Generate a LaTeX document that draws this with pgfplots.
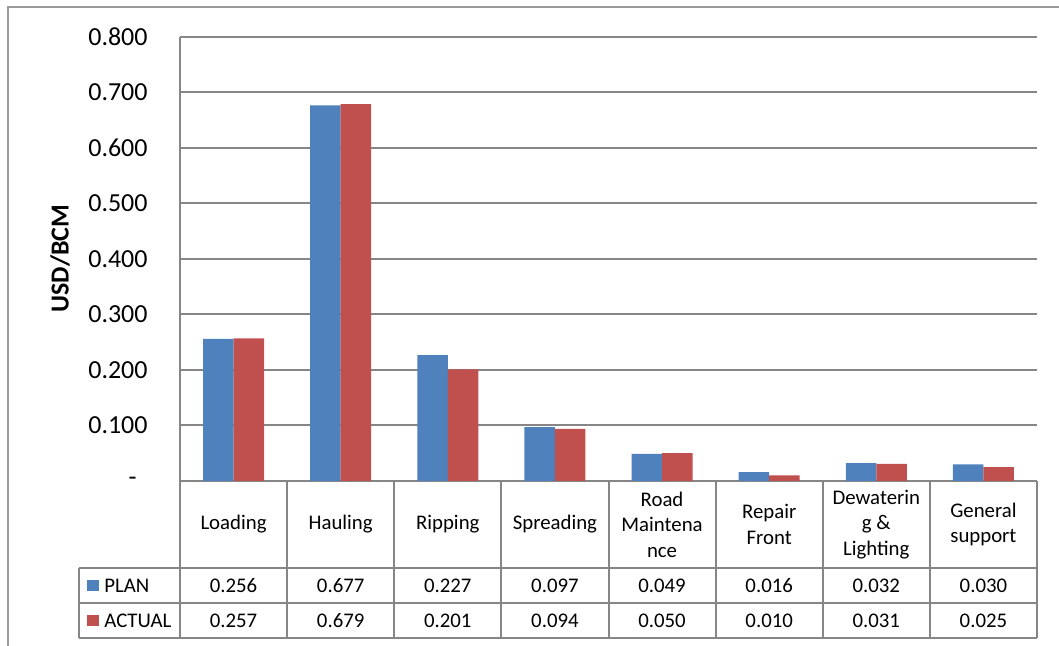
\documentclass[border=0pt]{standalone}
\usepackage{fontspec}
\setmainfont{Carlito}
\usepackage{pgfplots}
\usepackage{pgfplotstable}
\pgfplotsset{compat=1.18}

\definecolor{planblue}{HTML}{4F81BD}
\definecolor{actualred}{HTML}{C0504D}
\definecolor{gridgray}{HTML}{868686}
\definecolor{framegray}{HTML}{9A9A9A}

% Unit cost per activity (USD/BCM)
\pgfplotstableread{
x plan actual
0 0.256 0.257
1 0.677 0.679
2 0.227 0.201
3 0.097 0.094
4 0.049 0.050
5 0.016 0.010
6 0.032 0.031
7 0.030 0.025
}\costdata

\newcommand\tablefont{\fontsize{10.4}{12.8}\selectfont}
\newcommand\axisfont{\fontsize{13}{15.6}\selectfont}

\begin{document}
\begin{tikzpicture}
\useasboundingbox (-90pt,-82.5pt) rectangle (439.5pt,240.5pt);
% chart frame
\draw[framegray, line width=0.75pt] (-86pt,-82.5pt) -- (-86pt,237pt) -- (439.5pt,237pt);

\begin{axis}[
  at={(0pt,0pt)}, anchor=south west,
  scale only axis, width=428.5pt, height=222pt,
  xmin=-0.5, xmax=7.5, ymin=0, ymax=0.8,
  clip=false,
  xtick={0,1,2,3,4,5,6,7},
  xticklabels={Loading, Hauling, Ripping, Spreading, Road\\Maintena\\nce,
               Repair\\Front, Dewaterin\\g \&\\Lighting, General\\support},
  ytick={0,0.1,0.2,0.3,0.4,0.5,0.6,0.7,0.8},
  yticklabels={-\kern5.5pt, 0.100, 0.200, 0.300, 0.400, 0.500, 0.600, 0.700, 0.800},
  ymajorgrids,
  major grid style={gridgray, line width=1pt},
  axis x line*=bottom, axis y line*=left,
  axis line style={-, gridgray, line width=1pt},
  major tick length=0pt,
  yticklabel style={font=\axisfont, anchor=east, inner sep=0pt, xshift=-16pt},
  xticklabel style={font=\tablefont, align=center, anchor=center, inner sep=0pt, yshift=-21.75pt},
]
\addplot[ybar, bar width=15.25pt, bar shift=-7.625pt, fill=planblue, draw=none]
  table[x=x, y=plan] {\costdata};
\addplot[ybar, bar width=15.25pt, bar shift=7.625pt, fill=actualred, draw=none]
  table[x=x, y=actual] {\costdata};

% data table rows
\addplot[draw=none, mark=none, point meta=explicit,
  nodes near coords={\pgfmathprintnumber[fixed, fixed zerofill, precision=3, assume math mode=true]{\pgfplotspointmeta}},
  every node near coord/.style={anchor=center, inner sep=0pt, yshift=-52.25pt, font=\tablefont, text=black}]
  table[x=x, y expr=0, meta=plan] {\costdata};
\addplot[draw=none, mark=none, point meta=explicit,
  nodes near coords={\pgfmathprintnumber[fixed, fixed zerofill, precision=3, assume math mode=true]{\pgfplotspointmeta}},
  every node near coord/.style={anchor=center, inner sep=0pt, yshift=-69.75pt, font=\tablefont, text=black}]
  table[x=x, y expr=0, meta=actual] {\costdata};
\end{axis}

% data table grid
\begin{scope}[gridgray, line width=1pt]
  \foreach \i in {0,...,8} \draw (\i*53.5625pt,0pt) -- (\i*53.5625pt,-78.5pt);
  \draw (-50.5pt,-43.5pt) -- (428.5pt,-43.5pt);
  \draw (-50.5pt,-61pt) -- (428.5pt,-61pt);
  \draw (-50.5pt,-78.5pt) -- (428.5pt,-78.5pt);
  \draw (-50.5pt,-43.5pt) -- (-50.5pt,-78.5pt);
\end{scope}

% series keys in the table
\node[anchor=west, inner sep=0pt, font=\tablefont] at (-46.5pt,-52.25pt)
  {\textcolor{planblue}{\raisebox{0.6pt}{\rule{6pt}{5.5pt}}}\hspace{2.5pt}PLAN};
\node[anchor=west, inner sep=0pt, font=\tablefont] at (-46.5pt,-69.75pt)
  {\textcolor{actualred}{\raisebox{0.6pt}{\rule{6pt}{5.5pt}}}\hspace{2.5pt}ACTUAL};

% vertical axis title
\node[rotate=90, font=\bfseries\axisfont] at (-60pt,111.25pt) {USD/BCM};
\end{tikzpicture}
\end{document}
